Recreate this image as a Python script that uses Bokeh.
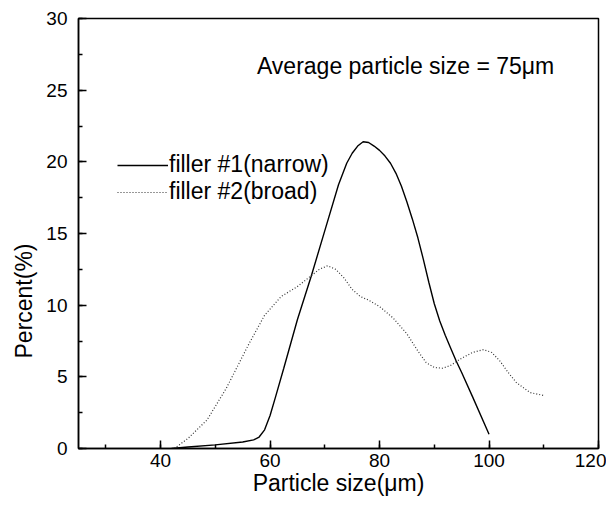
from bokeh.plotting import figure
from bokeh.models import SingleIntervalTicker, Legend, LegendItem, Label, Range1d, Title
from bokeh.embed import file_html
from bokeh.resources import INLINE

# ---- data ----
narrow_x = [42, 45, 50, 55, 57, 58, 59, 60, 61, 62.5, 65, 67.5, 70, 72.5, 74, 75, 76, 77, 78, 79, 80, 81, 82, 83, 84, 85, 86, 87, 88, 89, 90, 91, 92, 93, 94, 95, 97, 100]
narrow_y = [0, 0.1, 0.25, 0.45, 0.6, 0.8, 1.3, 2.3, 3.6, 5.6, 9.0, 12.0, 15.2, 18.4, 19.9, 20.6, 21.1, 21.4, 21.35, 21.1, 20.8, 20.4, 19.9, 19.2, 18.3, 17.2, 16.0, 14.7, 13.2, 11.6, 10.1, 8.9, 7.9, 7.0, 6.1, 5.3, 3.6, 1.0]

broad_x = [42.5, 45, 48.5, 52, 56, 59, 62, 65, 67, 69, 70.5, 72, 73.5, 75, 76.5, 78, 80, 82.5, 85, 87, 88.5, 90, 91.5, 93, 95, 97, 99, 100.5, 102, 103.5, 105, 107.5, 110]
broad_y = [0, 0.7, 2.0, 4.2, 7.2, 9.3, 10.6, 11.3, 11.9, 12.5, 12.75, 12.5, 11.9, 11.1, 10.6, 10.35, 9.9, 9.1, 8.0, 6.8, 6.0, 5.65, 5.6, 5.8, 6.3, 6.7, 6.9, 6.7, 6.1, 5.3, 4.6, 3.9, 3.7]

series_labels = ["filler #1(narrow)", "filler #2(broad)"]
x_title = "Particle size(\u03bcm)"
y_title = "Percent(%)"
note = "Average particle size = 75\u03bcm"

FONT = "Liberation Sans"
BIG = "23px"

p = figure(width=606, height=500,
           x_range=Range1d(25, 120), y_range=Range1d(0, 30),
           output_backend="svg", toolbar_location=None,
           min_border_left=78, min_border_right=8,
           min_border_top=18, min_border_bottom=52)

p.xgrid.visible = False
p.ygrid.visible = False
p.outline_line_color = "black"
p.outline_line_width = 1.5
p.background_fill_color = "white"
p.border_fill_color = "white"

p.xaxis.ticker = SingleIntervalTicker(interval=20, num_minor_ticks=2)
p.yaxis.ticker = SingleIntervalTicker(interval=5, num_minor_ticks=2)

for ax in (p.xaxis[0], p.yaxis[0]):
    ax.major_tick_in = 8
    ax.major_tick_out = 0
    ax.minor_tick_in = 4
    ax.minor_tick_out = 0
    ax.axis_line_width = 1.5
    ax.axis_line_color = "black"
    ax.major_tick_line_width = 1.5
    ax.minor_tick_line_width = 1.5
    ax.major_tick_line_color = "black"
    ax.minor_tick_line_color = "black"
    ax.major_label_text_font = FONT
    ax.major_label_text_font_size = "19px"
    ax.major_label_text_color = "black"
    ax.axis_label_text_font = FONT
    ax.axis_label_text_font_size = BIG
    ax.axis_label_text_font_style = "normal"
    ax.axis_label_text_color = "black"

p.xaxis.major_label_standoff = 5
p.yaxis.major_label_standoff = 11
p.xaxis.axis_label = x_title
p.xaxis.axis_label_standoff = 0

# y title sits below the frame centre in the reference -> side title with offset
p.add_layout(Title(text=y_title, align="left", offset=90, standoff=13,
                   text_font=FONT, text_font_size=BIG, text_font_style="normal",
                   text_color="black"), "left")

r1 = p.line(narrow_x, narrow_y, line_color="black", line_width=1.4)
r2 = p.line(broad_x, broad_y, line_color="#333333", line_width=1.2, line_dash="1 2")

legend = Legend(items=[LegendItem(label=series_labels[0], renderers=[r1]),
                       LegendItem(label=series_labels[1], renderers=[r2])],
                location=(39, 243), glyph_width=51, glyph_height=20,
                label_height=20, spacing=0, padding=0, margin=0,
                label_standoff=1, border_line_alpha=0, background_fill_alpha=0,
                label_text_font=FONT, label_text_font_size=BIG,
                label_text_color="black")
p.add_layout(legend)

p.add_layout(Label(x=57.6, y=26.7, text=note, text_font=FONT,
                   text_font_size=BIG, text_baseline="middle",
                   text_align="left", text_color="black"))

open("out.html", "w").write(file_html(p, INLINE))
